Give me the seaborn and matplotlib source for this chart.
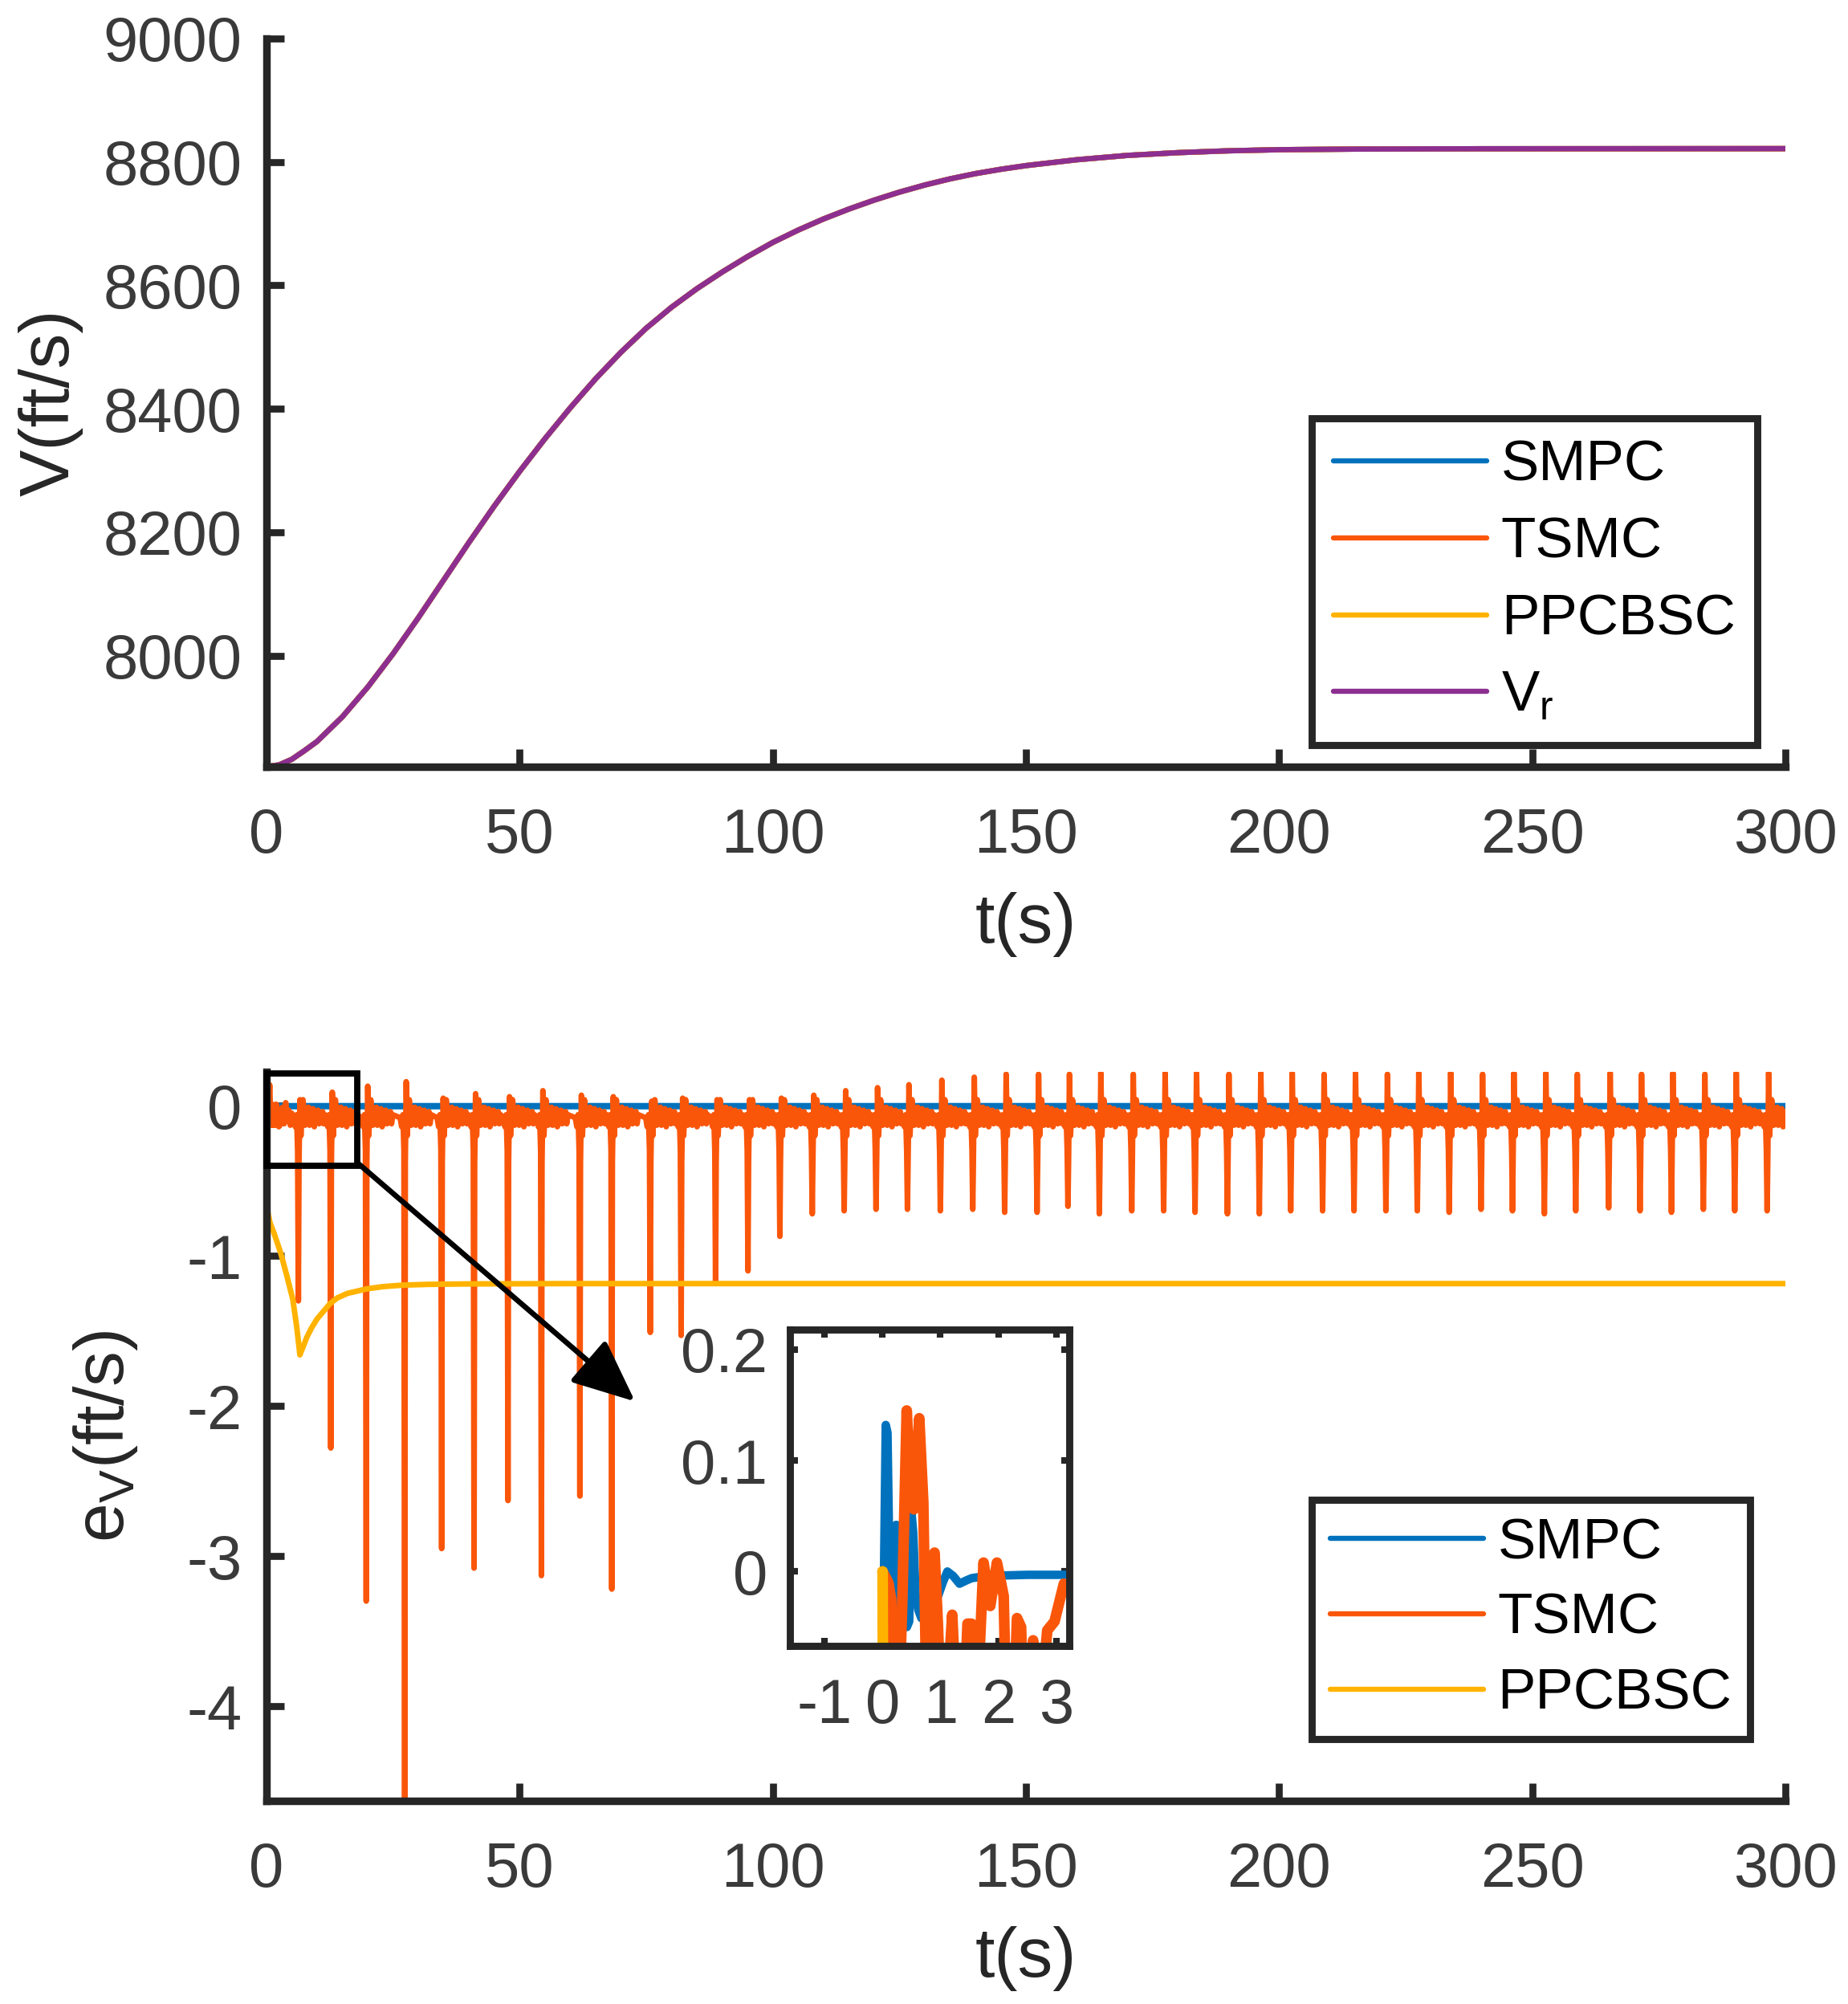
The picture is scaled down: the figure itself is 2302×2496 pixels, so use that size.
import matplotlib
matplotlib.use("Agg")
import numpy as np
import pandas as pd
import seaborn as sns
import matplotlib.pyplot as plt
from matplotlib.patches import Rectangle

# ---------------- data ----------------
# top panel: reference velocity (all controllers overlap it)
vr_t = [0, 2.5, 5, 7.5, 10, 15, 20, 25, 30, 35, 40, 45, 50, 55, 60, 65, 70, 75, 80, 85, 90,
        95, 100, 105, 110, 115, 120, 125, 130, 135, 140, 145, 150, 160, 170, 180, 190, 200,
        215, 240, 300]
vr_v = [7820, 7823, 7832, 7846, 7861, 7901, 7949, 8003, 8061.5, 8122.5, 8183.5, 8242.5,
        8298.5, 8351.5, 8401.5, 8448.5, 8491.5, 8530.5, 8564.5, 8594.5, 8621.5, 8646.5,
        8669.5, 8689.5, 8707.5, 8723.5, 8738, 8751, 8762.5, 8772.5, 8781, 8788, 8794,
        8803.5, 8810.5, 8815, 8818, 8819.8, 8820.8, 8821.3, 8821.5]

# bottom panel: SMPC error
smpc_t = [0.0, 0.02, 0.055, 0.085, 0.14, 0.19, 0.235, 0.29, 0.36, 0.42, 0.46, 0.5, 0.53, 0.57,
          0.62, 0.67, 0.74, 0.8, 0.88, 0.96, 1.04, 1.12, 1.22, 1.33, 1.45, 1.54, 1.8, 2.5, 3.3,
          50, 150, 300]
smpc_v = [0.0, -0.02, 0.132, 0.125, -0.07, -0.05, 0.042, 0.041, -0.03, -0.05, -0.045, 0.053,
          0.035, -0.02, -0.035, -0.042, -0.03, -0.012, -0.02, -0.022, -0.01, 0.0, -0.004,
          -0.011, -0.008, -0.006, -0.004, -0.003, -0.003, -0.003, -0.003, -0.003]

# PPCBSC error
ppc_t = [0.0, 0.01, 0.03, 0.08, 0.2, 0.7, 1.5, 2.8, 4.0, 5.2, 6.0, 6.6, 7.3, 8.0, 8.9, 10.0,
         11.0, 12.5, 14.0, 16.0, 19.8, 23.0, 27.0, 32.0, 40.0, 60.0, 100.0, 200.0, 300.0]
ppc_v = [0.0, -0.15, -0.35, -0.55, -0.7, -0.78, -0.85, -0.98, -1.13, -1.29, -1.48, -1.66,
         -1.6, -1.54, -1.48, -1.42, -1.38, -1.32, -1.28, -1.25, -1.22, -1.205, -1.195, -1.19,
         -1.187, -1.185, -1.185, -1.185, -1.185]

# TSMC error: initial transient
tsmc_init_t = [0.0, 0.1, 0.148, 0.185, 0.287, 0.343, 0.417, 0.495, 0.542, 0.634, 0.704, 0.759,
               0.843, 0.898, 0.958, 1.005, 1.12, 1.204, 1.282, 1.421, 1.468, 1.537, 1.606,
               1.653, 1.745, 1.861, 1.977, 2.093, 2.139, 2.278, 2.324, 2.394, 2.44, 2.532,
               2.602, 2.671, 2.764, 2.847, 2.972, 3.134, 3.25, 3.5, 3.8, 4.1, 4.4, 4.7, 5.0]
tsmc_init_v = [0.0, -0.01, -0.025, -0.11, -0.12, -0.022, 0.145, 0.062, 0.056, 0.138, 0.062,
               -0.12, -0.022, 0.017, -0.05, -0.13, -0.11, -0.039, -0.13, -0.11, -0.047, -0.047,
               -0.13, -0.1, 0.008, -0.031, 0.008, -0.022, -0.13, -0.11, -0.042, -0.05, -0.14,
               -0.1, -0.062, -0.13, -0.1, -0.053, -0.045, -0.011, -0.014, -0.12, 0.02,
               -0.1, -0.03, -0.13, -0.05]

# TSMC periodic spikes: times, minima, following upward peaks
cycle_t = [6.3, 12.7, 19.7, 27.3, 34.6, 41.0, 47.7, 54.3, 61.9, 68.2, 75.8, 81.9, 88.7, 95.1,
           101.4, 107.8, 114.1, 120.4, 126.6, 133.1, 139.5, 145.8, 152.2, 158.3, 164.5, 170.9,
           177.2, 183.4, 189.8, 196.1, 202.3, 208.6, 214.8, 221.1, 227.3, 233.6, 239.9, 246.1,
           252.4, 258.6, 265.1, 271.3, 277.5, 283.8, 290.0, 296.4]
cycle_min = [-1.30, -2.28, -3.30, -4.61, -2.95, -3.08, -2.63, -3.13, -2.60, -3.22, -1.51, -1.53,
             -1.18, -1.10, -0.87, -0.72, -0.70, -0.69, -0.69, -0.70, -0.69, -0.71, -0.71, -0.67,
             -0.72, -0.70, -0.70, -0.71, -0.72, -0.72, -0.70, -0.70, -0.70, -0.70, -0.70, -0.71,
             -0.69, -0.70, -0.72, -0.70, -0.68, -0.70, -0.71, -0.69, -0.70, -0.70]
cycle_peak = [0.04, 0.09, 0.13, 0.16, 0.05, 0.08, 0.06, 0.10, 0.07, 0.06, 0.03, 0.05, 0.04, 0.04,
              0.05, 0.07, 0.10, 0.12, 0.14, 0.17, 0.19, 0.21, 0.21, 0.21, 0.22, 0.21, 0.22, 0.22,
              0.21, 0.22, 0.22, 0.21, 0.22, 0.21, 0.22, 0.22, 0.21, 0.22, 0.22, 0.21, 0.22, 0.21,
              0.22, 0.21, 0.22, 0.22]
# shape around each spike (offsets in s, values in ft/s)
pre_off = [-0.9, -0.6, -0.35, -0.15]
pre_val = [-0.08, -0.14, -0.06, -0.30]
post_off = [0.12]
post_val = [-0.38]
rec_off = [0.5, 0.7, 0.9, 1.1, 1.3, 1.5, 1.75, 2.0, 2.2, 2.45, 2.7, 2.9, 3.15, 3.4, 3.6,
           3.85, 4.1, 4.3, 4.55, 4.8, 5.0, 5.25]
rec_val = [-0.2, -0.04, 0.04, -0.02, -0.13, -0.03, -0.10, -0.01, -0.13, -0.05, -0.11, -0.02,
           -0.14, -0.06, -0.09, -0.03, -0.12, -0.05, -0.10, -0.04, -0.12, -0.06]
tsmc_end = (300.0, -0.04)

labels_top = ["SMPC", "TSMC", "PPCBSC", r"$\mathrm{V_r}$"]
labels_bot = ["SMPC", "TSMC", "PPCBSC"]
colors = {"SMPC": "#0072BD", "TSMC": "#FA560A", "PPCBSC": "#FFB300", "Vr": "#8C2F91"}

# assemble TSMC series from the read spike list
tt = list(tsmc_init_t)
tv = list(tsmc_init_v)
for k, tk in enumerate(cycle_t):
    nxt = cycle_t[k + 1] if k + 1 < len(cycle_t) else 300.5
    for o, v in zip(pre_off, pre_val):
        tt.append(tk + o); tv.append(v)
    tt.append(tk); tv.append(cycle_min[k])
    for o, v in zip(post_off, post_val):
        tt.append(tk + o); tv.append(v)
    tt.append(tk + 0.3); tv.append(cycle_peak[k])
    for o, v in zip(rec_off, rec_val):
        if tk + o < nxt - 0.95:
            tt.append(tk + o); tv.append(v)
tt.append(tsmc_end[0]); tv.append(tsmc_end[1])

df_v = pd.DataFrame({"t": vr_t, "V": vr_v})
df_smpc = pd.DataFrame({"t": smpc_t, "e": smpc_v})
df_tsmc = pd.DataFrame({"t": tt, "e": tv})
df_ppc = pd.DataFrame({"t": ppc_t, "e": ppc_v})

# ---------------- style ----------------
sns.set_theme(style="ticks")
plt.rcParams["font.family"] = ["Liberation Sans", "DejaVu Sans"]
plt.rcParams["mathtext.fontset"] = "custom"
plt.rcParams["mathtext.rm"] = "Liberation Sans"
plt.rcParams["mathtext.it"] = "Liberation Sans"
plt.rcParams["axes.unicode_minus"] = False

TICK_C = "#3a3a3a"
AX_C = "#262626"
FS_TICK = 28
FS_LAB = 31.5
FS_LEG = 25.5

fig = plt.figure(figsize=(11.51, 12.48), dpi=200)
ax1 = fig.add_axes([0.1442, 0.6174, 0.8219, 0.3634])
ax2 = fig.add_axes([0.1442, 0.1014, 0.8219, 0.3637])


def style_axes(ax, box=False, fs=FS_TICK, tl=8, xpad=18, ypad=11, sw=3.4):
    for s in ["left", "bottom", "top", "right"]:
        ax.spines[s].set_visible(box or s in ("left", "bottom"))
        ax.spines[s].set_linewidth(sw)
        ax.spines[s].set_color(AX_C)
    ax.tick_params(axis="both", direction="in", length=tl, width=sw * 0.92, color=AX_C,
                   labelsize=fs, labelcolor=TICK_C, top=box, right=box)
    ax.tick_params(axis="x", pad=xpad)
    ax.tick_params(axis="y", pad=ypad)
    ax.set_facecolor("white")


LW = 2.5
# top panel
names_top = ["SMPC", "TSMC", "PPCBSC", "Vr"]
for i, name in enumerate(names_top):
    sns.lineplot(data=df_v, x="t", y="V", ax=ax1, color=colors[name], linewidth=2.4,
                 estimator=None, sort=False, errorbar=None, label=labels_top[i])
ax1.set_xlim(0, 300)
ax1.set_ylim(7820, 9000)
ax1.set_xticks(np.arange(0, 301, 50))
ax1.set_yticks(np.arange(8000, 9001, 200))
style_axes(ax1)
ax1.set_xlabel("t(s)", fontsize=FS_LAB, color=AX_C, labelpad=12)
ax1.set_ylabel("V(ft/s)", fontsize=FS_LAB, color=AX_C, labelpad=9)

# bottom panel
sns.lineplot(data=df_smpc, x="t", y="e", ax=ax2, color=colors["SMPC"], linewidth=2.9,
             estimator=None, sort=False, errorbar=None, label="SMPC")
sns.lineplot(data=df_tsmc, x="t", y="e", ax=ax2, color=colors["TSMC"], linewidth=LW,
             estimator=None, sort=False, errorbar=None, label="TSMC")
sns.lineplot(data=df_ppc, x="t", y="e", ax=ax2, color=colors["PPCBSC"], linewidth=LW,
             estimator=None, sort=False, errorbar=None, label="PPCBSC")
ax2.set_xlim(0, 300)
ax2.set_ylim(-4.63, 0.225)
ax2.set_xticks(np.arange(0, 301, 50))
ax2.set_yticks([-4, -3, -2, -1, 0])
style_axes(ax2)
ax2.set_xlabel("t(s)", fontsize=FS_LAB, color=AX_C, labelpad=12)
ax2.set_ylabel(r"e$_\mathrm{V}$(ft/s)", fontsize=FS_LAB, color=AX_C, labelpad=21)

# zoom rectangle and arrow
ax2.add_patch(Rectangle((0, -0.40), 18.0, 0.615, fill=False, edgecolor="black",
                        linewidth=2.8, zorder=10, clip_on=False))
ax2.annotate("", xy=(72.8, -1.97), xytext=(18.3, -0.39),
             arrowprops=dict(arrowstyle="-|>,head_length=0.75,head_width=0.33",
                             mutation_scale=32, color="black", linewidth=2.4,
                             shrinkA=0, shrinkB=0), zorder=11)

# legends
for ax, labs, top, lsp, bp in [(ax1, labels_top, 0.7913, 0.42, 0.38),
                               (ax2, labels_bot, 0.2518, 0.39, 0.32)]:
    leg = ax.legend(loc="upper left", bbox_to_anchor=(0.7098, top),
                    bbox_transform=fig.transFigure, fontsize=FS_LEG, frameon=True,
                    fancybox=False, framealpha=1, edgecolor=AX_C, handlelength=2.7,
                    handletextpad=0.25, borderpad=bp, labelspacing=lsp, borderaxespad=0)
    leg.get_frame().set_linewidth(3.2)
    for txt in leg.get_texts():
        txt.set_color("black")
    for h in leg.get_lines():
        h.set_linewidth(2.3)

# inset
axi = fig.add_axes([0.4275, 0.1787, 0.1512, 0.1579])
sns.lineplot(data=df_smpc, x="t", y="e", ax=axi, color=colors["SMPC"], linewidth=3.8,
             estimator=None, sort=False, errorbar=None, legend=False)
sns.lineplot(data=df_tsmc, x="t", y="e", ax=axi, color=colors["TSMC"], linewidth=4.8,
             estimator=None, sort=False, errorbar=None, legend=False)
sns.lineplot(data=df_ppc, x="t", y="e", ax=axi, color=colors["PPCBSC"], linewidth=4.8,
             estimator=None, sort=False, errorbar=None, legend=False)
axi.set_xlim(-1.6, 3.23)
axi.set_ylim(-0.067, 0.218)
axi.set_xticks([-1, 0, 1, 2, 3])
axi.set_yticks([0, 0.1, 0.2])
axi.set_yticklabels(["0", "0.1", "0.2"])
style_axes(axi, box=True, fs=28, tl=3.6, xpad=14, ypad=10, sw=3.2)
axi.set_xlabel("")
axi.set_ylabel("")

fig.savefig("out.png", dpi=200, facecolor="white")
